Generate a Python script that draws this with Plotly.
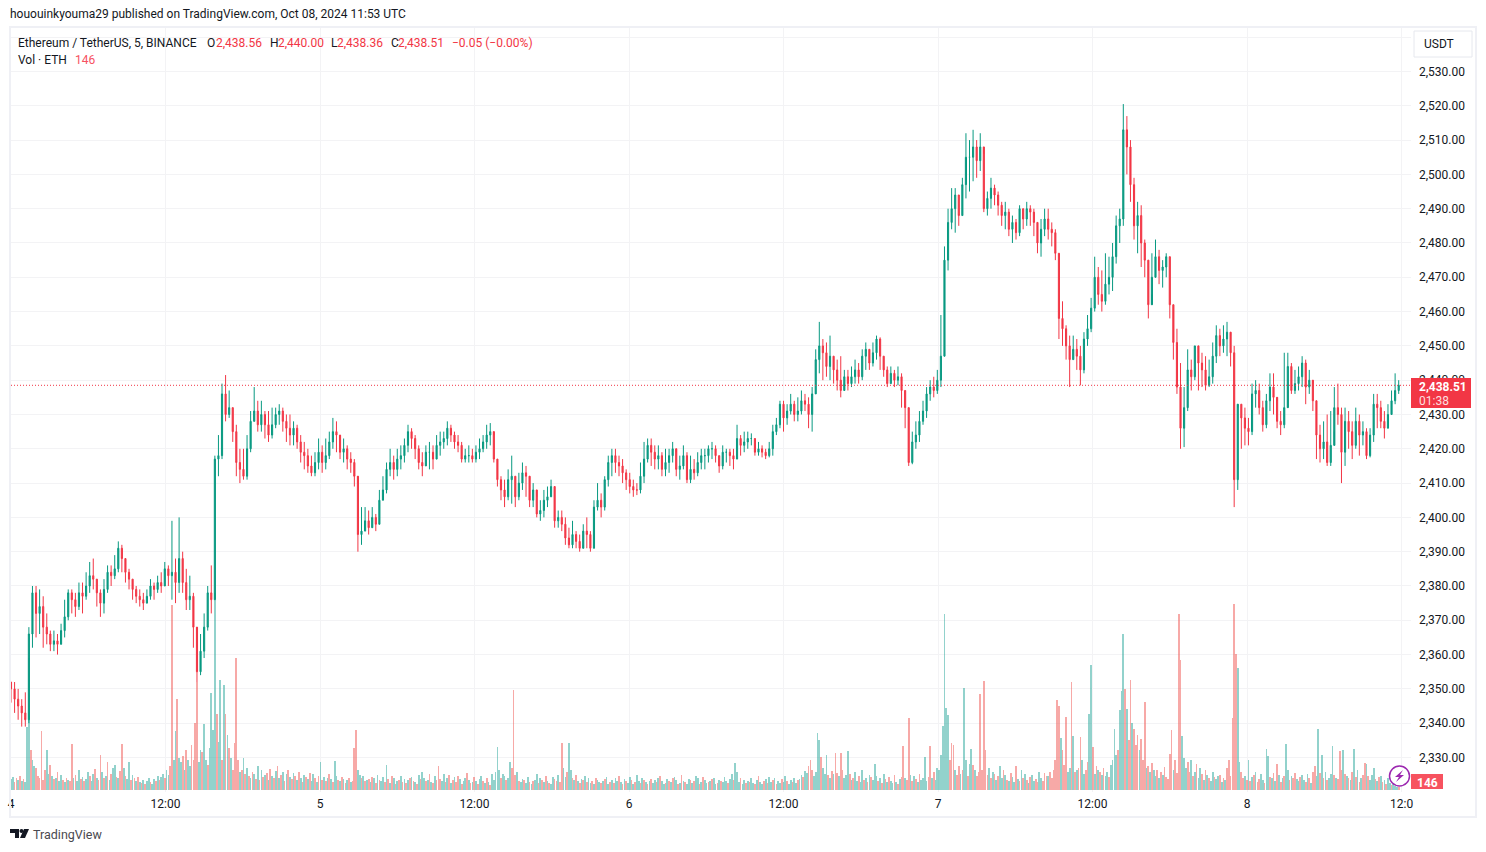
import pandas as pd
import plotly.graph_objects as go

W, H = 1486, 852
UP = "#089981"
DOWN = "#f23645"
VOL_UP = "rgba(38,166,154,0.5)"
VOL_DOWN = "rgba(239,83,80,0.5)"
FONT = "Roboto"
TEXT = "#131722"

# one candle per 1000 s
closes = [
    2350, 2347, 2345, 2343, 2341, 2366, 2378, 2372, 2374, 2368, 2366, 2363,
    2364, 2363, 2367, 2371, 2378, 2376, 2374, 2378, 2377, 2380, 2383, 2382,
    2378, 2375, 2379, 2384, 2383, 2385, 2391, 2388, 2384, 2382, 2379, 2377,
    2376, 2375, 2377, 2380, 2379, 2381, 2380, 2385, 2383, 2384, 2381, 2388,
    2381, 2376, 2377, 2368, 2355, 2361, 2368, 2378, 2376, 2417, 2418, 2436,
    2430, 2432, 2425, 2416, 2414, 2412, 2420, 2428, 2431, 2427, 2430, 2427,
    2424, 2427, 2430, 2431, 2428, 2426, 2424, 2426, 2422, 2419, 2418, 2415,
    2413, 2416, 2419, 2416, 2418, 2422, 2425, 2424, 2419, 2420, 2417, 2416,
    2412, 2395, 2396, 2399, 2397, 2400, 2398, 2405, 2408, 2414, 2416, 2414,
    2417, 2418, 2421, 2425, 2423, 2420, 2416, 2415, 2419, 2419, 2417, 2421,
    2422, 2423, 2426, 2424, 2422, 2421, 2417, 2418, 2418, 2417, 2419, 2420,
    2422, 2424, 2425, 2417, 2411, 2408, 2406, 2411, 2412, 2406, 2410, 2413,
    2412, 2405, 2408, 2401, 2402, 2405, 2406, 2409, 2399, 2400, 2398, 2394,
    2392, 2395, 2393, 2391, 2396, 2395, 2391, 2403, 2405, 2403, 2411, 2416,
    2418, 2416, 2415, 2413, 2411, 2409, 2408, 2408, 2412, 2417, 2421, 2419,
    2417, 2418, 2414, 2416, 2418, 2420, 2414, 2415, 2418, 2411, 2414, 2413,
    2416, 2418, 2418, 2420, 2420, 2418, 2415, 2419, 2419, 2418, 2417, 2423,
    2421, 2422, 2423, 2423, 2419, 2420, 2419, 2418, 2420, 2425, 2427, 2433,
    2429, 2431, 2433, 2430, 2431, 2434, 2433, 2430, 2436, 2446, 2450, 2448,
    2444, 2447, 2443, 2440, 2437, 2441, 2439, 2441, 2443, 2441, 2447, 2449,
    2445, 2448, 2452, 2447, 2443, 2439, 2442, 2440, 2441, 2437, 2432, 2416,
    2422, 2424, 2428, 2431, 2436, 2438, 2437, 2440, 2447, 2475, 2486, 2490,
    2494, 2488, 2497, 2505, 2505, 2508, 2504, 2508, 2490, 2493, 2496, 2494,
    2491, 2488, 2489, 2484, 2486, 2483, 2490, 2487, 2490, 2489, 2486, 2480,
    2484, 2487, 2484, 2483, 2477, 2458, 2455, 2450, 2446, 2449, 2447, 2443,
    2452, 2455, 2461, 2470, 2465, 2463, 2468, 2470, 2476, 2485, 2487, 2513,
    2508, 2497, 2485, 2488, 2480, 2475, 2462, 2470, 2476, 2472, 2473, 2476,
    2462, 2451, 2438, 2426, 2432, 2443, 2441, 2450, 2445, 2443, 2438.5, 2441,
    2447, 2453, 2450, 2452, 2454, 2448, 2411, 2433, 2429, 2426, 2425, 2436,
    2437, 2432, 2427, 2434, 2438, 2435, 2428, 2427, 2432, 2444, 2437, 2439,
    2441, 2445, 2438, 2440, 2434, 2424, 2420, 2422, 2416, 2421, 2432, 2430,
    2419, 2428, 2425, 2421, 2428, 2424, 2425, 2418, 2424, 2433, 2432, 2428,
    2426, 2430, 2434, 2437, 2438.51,
]
highs = [
    2352, 2352, 2350, 2347, 2349, 2368, 2380, 2380, 2379, 2377, 2372, 2367,
    2367, 2366, 2369, 2376, 2379, 2379, 2378, 2381, 2381, 2384, 2387, 2388,
    2382, 2379, 2382, 2386, 2386, 2389, 2393, 2392, 2388, 2385, 2382, 2380,
    2379, 2378, 2379, 2382, 2381, 2383, 2384, 2387, 2386, 2399, 2388, 2400,
    2390, 2385, 2383, 2378, 2362, 2366, 2372, 2380, 2386, 2418, 2424, 2439,
    2441.5, 2437, 2432, 2427, 2420, 2420, 2424, 2431, 2438, 2434, 2434, 2431,
    2431, 2432, 2432, 2433, 2432, 2430, 2430, 2428, 2427, 2424, 2422, 2420,
    2418, 2419, 2423, 2421, 2423, 2425, 2429, 2428, 2424, 2423, 2421, 2419,
    2417, 2410, 2403, 2403, 2402, 2403, 2401, 2408, 2412, 2416, 2420, 2418,
    2420, 2421, 2423, 2427, 2426, 2424, 2421, 2419, 2421, 2422, 2421, 2424,
    2425, 2425, 2428, 2427, 2425, 2424, 2422, 2420, 2421, 2420, 2421, 2423,
    2424, 2427, 2427.5, 2424, 2417, 2412, 2411, 2414, 2418, 2412, 2413, 2416,
    2415, 2411, 2410, 2406, 2405, 2408, 2409, 2411, 2409, 2402, 2402, 2400,
    2397, 2399, 2396, 2395, 2398, 2400, 2396, 2405, 2410, 2407, 2412, 2418,
    2420, 2420, 2418, 2417, 2414, 2413, 2411, 2410, 2416, 2422, 2423, 2423,
    2421, 2421, 2419, 2420, 2420, 2422, 2419, 2418, 2421, 2419, 2418, 2417,
    2419, 2420, 2420, 2421, 2422, 2421, 2418, 2421, 2420, 2420, 2420, 2427,
    2424, 2425, 2425, 2424.5, 2423, 2422, 2421, 2420, 2422, 2427, 2429, 2434,
    2434, 2433, 2436, 2434, 2435, 2437, 2436, 2435, 2438, 2449, 2457, 2452,
    2451, 2453, 2447, 2446, 2447, 2443, 2443, 2444, 2446, 2445, 2449, 2451,
    2449, 2451, 2453, 2452.5, 2447, 2444, 2444, 2443, 2444, 2442, 2437, 2432,
    2425, 2428, 2431, 2434, 2438, 2440, 2441, 2443, 2459, 2479, 2490, 2496,
    2496, 2494, 2499, 2512, 2510, 2513, 2510, 2512, 2506, 2495, 2499, 2497,
    2495, 2492, 2492, 2490, 2488, 2487, 2491, 2490, 2492, 2491, 2490, 2486,
    2487, 2490, 2490, 2486, 2484, 2477, 2463, 2456, 2453, 2453, 2452, 2450,
    2454, 2459, 2464, 2476, 2473, 2472, 2477, 2476, 2480, 2488, 2490, 2520.5,
    2517, 2510, 2499, 2492, 2491, 2481, 2475, 2477, 2481, 2478, 2475, 2477,
    2476, 2462, 2455, 2445, 2438, 2449, 2446, 2450, 2448, 2448, 2447, 2446,
    2451, 2456, 2455, 2456, 2457, 2453, 2450, 2432, 2433, 2432, 2429, 2439,
    2440, 2439, 2434, 2436, 2442, 2442, 2434, 2431, 2448, 2448, 2445, 2443,
    2444, 2447, 2446, 2443, 2439, 2434, 2427, 2428, 2430, 2431, 2438, 2439,
    2432, 2432, 2431, 2428, 2432, 2430, 2428, 2426, 2426, 2436, 2436, 2434,
    2431, 2433, 2437, 2442, 2440,
]
lows = [
    2346, 2343, 2341, 2339, 2339, 2340, 2362, 2365, 2366, 2362, 2363, 2361,
    2361, 2360, 2363, 2365, 2370, 2372, 2371, 2373, 2372, 2376, 2378, 2379,
    2374, 2371, 2372, 2378, 2380, 2382, 2384, 2384, 2381, 2379, 2376, 2375,
    2374, 2373, 2375, 2376, 2376, 2378, 2378, 2380, 2380, 2376, 2375, 2378,
    2378, 2373, 2373, 2362, 2352, 2354, 2359, 2367, 2372, 2378, 2412, 2417,
    2428, 2429, 2422, 2412, 2410, 2411, 2411, 2419, 2428, 2425, 2425, 2423,
    2422, 2423, 2426, 2427, 2425, 2422, 2421, 2421, 2420, 2416, 2414, 2413,
    2412, 2412, 2414, 2413, 2414, 2417, 2420, 2419, 2417, 2416, 2414, 2413,
    2409, 2390, 2392, 2396, 2395, 2397, 2396, 2398, 2405, 2407, 2412, 2411,
    2412, 2414, 2416, 2419, 2420, 2417, 2414, 2412, 2415, 2414, 2414, 2417,
    2418, 2420, 2421, 2422, 2420, 2419, 2416, 2416, 2416, 2416, 2416, 2417,
    2419, 2420, 2421, 2416, 2409, 2405, 2403, 2405, 2404, 2403, 2405, 2408,
    2406, 2403, 2403, 2400, 2399, 2400, 2403, 2406, 2397, 2397, 2396, 2392,
    2391, 2391, 2391, 2390, 2392, 2391, 2390, 2391, 2402, 2400, 2402, 2409,
    2412, 2413, 2412, 2410, 2408, 2407, 2406, 2406.5, 2407, 2410, 2416, 2415,
    2414, 2414, 2412, 2412, 2413, 2416, 2412, 2411, 2414, 2410, 2410, 2411,
    2412, 2414, 2414, 2416, 2417, 2416, 2413, 2414, 2416, 2415, 2414, 2417,
    2418, 2419, 2420, 2421, 2418, 2418, 2417.5, 2417, 2417.5, 2418, 2424, 2426,
    2425, 2427, 2430, 2428, 2428, 2430, 2431, 2426, 2425, 2436, 2442, 2440,
    2441, 2440, 2439, 2437, 2435, 2439, 2437, 2438, 2439, 2439, 2440, 2443,
    2443, 2444, 2446, 2443, 2441, 2438, 2439, 2438, 2438.5, 2432, 2426, 2415,
    2415.5, 2420, 2422, 2427, 2429, 2434, 2435, 2436, 2438, 2448, 2472, 2484,
    2483, 2485, 2488, 2493, 2495, 2498, 2499, 2501, 2489, 2488, 2490, 2491,
    2488, 2485, 2484, 2482, 2480, 2481, 2482, 2484, 2485, 2485, 2482, 2477,
    2476, 2482, 2481, 2479, 2475, 2452, 2450, 2446, 2438, 2446, 2443, 2438.5,
    2442, 2450, 2454, 2460, 2462, 2460, 2462, 2465, 2466, 2474, 2480, 2485,
    2500, 2492, 2481, 2477, 2473, 2470, 2458, 2465, 2472, 2468, 2467, 2470,
    2458, 2446, 2436, 2420, 2420.5, 2431, 2437, 2440, 2437, 2438, 2437, 2438,
    2439, 2445, 2447, 2448, 2447, 2444, 2403, 2408, 2420, 2421, 2421, 2424,
    2432, 2430, 2425, 2426, 2431, 2430, 2426, 2424, 2426, 2438, 2436, 2436,
    2437, 2438, 2433, 2436, 2431, 2417, 2416, 2417, 2415, 2415, 2425, 2427,
    2410, 2415, 2420, 2417, 2420, 2418, 2421, 2417, 2417.5, 2422, 2426, 2426,
    2423, 2426, 2430, 2433, 2436,
]
first_open = 2352
opens = [first_open] + closes[:-1]

# 1 unit = 50 ETH, one bar per 500 s, negative means a falling bar
volumes = [
    11, 13, -8, -12, 10, -14, 9, -11, 8, 63, 132, -40, 30, 24, -22, -14, -12, -59, -10, -20,
    40, 16, -25, 14, -11, 12, -18, 9, 15, -10, 8, -12, 10, -9, -46, 12, -15, 9, 20, -11,
    13, -9, 11, 18, -14, 9, 16, -21, 12, -10, -35, 18, -12, 14, -28, 10, -16, 22, 25, -13,
    12, -19, -46, 22, -14, 11, 28, -10, 15, -12, 9, -13, 8, -7, 10, -6, 9, 12, -8, 6,
    11, -9, 14, -10, 13, 16, -12, 20, 15, -24, -185, 30, 59, -91, 32, 28, -34, 20, -40, 30,
    24, -45, -30, -67, -108, 28, 40, -38, 66, 30, -25, 42, 97, 60, 190, -76, 48, 110, -30, 105,
    -76, 55, -42, 32, -20, -47, -132, -30, 18, -20, 32, -16, 22, -14, 12, -18, 16, -11, 24, -10,
    20, -13, 15, -17, 10, -21, 14, -12, 19, -24, 12, -15, 18, -9, 16, -20, 13, -11, 17, -14,
    10, -18, 12, -8, 15, -13, 11, -17, 9, 16, -12, 8, -14, 28, -10, 13, -9, 12, -16, 11,
    -8, 29, 14, -10, 9, -13, 11, -7, 10, -12, 8, -9, -42, -60, 20, 15, -12, 14, -9, 10,
    -11, 8, -13, 12, -7, 15, -10, 9, 13, -8, 25, -11, 7, -14, 12, -6, 9, -10, 14, -8,
    11, -7, 10, -12, 13, -9, 8, -6, 15, -11, 18, 12, -9, 10, -16, 8, -7, 14, -10, -24,
    -11, 9, 16, -8, 12, -15, 7, -10, 13, -8, -14, 11, -6, 9, 12, -17, 10, -7, 8, -13,
    9, -6, 11, 14, -9, 7, -12, 8, -5, 16, 10, 18, 43, 20, -12, 16, 14, -10, 12, 28,
    -22, -100, -15, 18, -9, 8, 11, -10, 7, 13, -8, 6, -9, 10, 16, -7, 12, -10, 8, -14,
    9, -7, 6, 13, -11, -9, 15, -8, -47, 22, 13, -18, 47, 20, -12, 10, -15, 9, -7, 11,
    -10, 14, -8, 12, 7, -9, 6, -12, 10, 8, -7, 9, -11, 13, 6, -8, 10, -7, 12, 9,
    -14, 8, -6, 11, -9, 7, 13, -10, 6, -8, 15, 9, -7, 12, -10, 8, -6, 9, -11, 7,
    10, -8, 12, -14, 9, 6, -7, 11, -9, 8, -12, 13, 10, -6, 7, -15, 9, -8, 6, 11,
    -10, 7, -9, 14, 12, -6, 8, -13, 10, 7, -8, 9, -11, 12, 6, -7, 10, -9, 8, 13,
    9, -7, 11, 16, -10, 27, 18, 8, -12, 6, 10, -7, 9, -8, 12, 7, -6, 10, -14, 8,
    6, -9, 11, -7, 13, 8, -10, 12, -6, 9, 7, -11, 8, 14, -9, 6, 10, -8, 12, 7,
    -10, 11, 15, -13, 19, 17, -24, -30, -20, 14, 18, 57, 50, -33, 22, 16, 35, -15, 12, -19,
    16, -37, -17, 14, -37, -20, 12, 15, 39, -16, 10, -12, 18, 9, -14, 8, 20, -10, 12, -8,
    15, -13, 10, 26, 14, -9, 12, -7, 16, -11, 8, -13, 9, 7, -15, 8, -6, 11, -13, -44,
    12, -10, -72, 15, -9, 14, -11, 8, -16, 10, 12, 33, 9, -13, -44, 12, -18, 10, 22, 20,
    35, 64, 176, 82, 75, -30, -47, -45, 20, -15, -24, 16, -20, 102, 30, -14, 26, 41, -25, 20,
    -14, -18, -96, -20, -109, -40, -15, 22, -12, 18, -16, 10, -14, 24, 12, -20, 15, -10, 9, -17,
    13, 8, -24, 11, -9, 20, -12, 16, -10, 7, -13, 15, 9, -11, -8, 18, 12, -9, -17, -14,
    14, -18, -12, -20, -30, -90, -84, 52, -40, -25, -73, 18, 22, -108, 54, -18, 20, -22, -53, 30,
    16, -20, -28, 76, 125, -43, 16, -24, 20, -18, 15, -22, 14, 18, -13, 25, 30, 61, 35, -40,
    80, 99, 156, -101, 81, -50, -110, 67, -61, -45, -55, 40, -51, -30, -88, 22, -24, 18, -27, 20,
    14, -20, 12, -18, 15, -23, -13, -11, -36, -60, 20, -30, -17, -176, -130, 54, 32, 22, -28, -18,
    30, -14, 18, -26, 12, 22, -16, 10, -20, 15, -12, 9, 18, -13, 11, 14, -15, 8, -12, 10,
    -22, -30, -14, -72, -186, -136, 122, 28, -18, -12, 14, -10, 30, -9, 13, -15, 18, -8, -11, 16,
    10, -7, 41, 34, -13, 12, -17, 9, -26, 15, -8, 12, -14, 46, 20, -10, 14, -12, -17, 11,
    9, -13, 15, 10, -8, 16, -12, 7, -18, -24, 14, 61, -17, 35, -12, 18, -10, 12, 16, 44,
    -15, 12, -11, -39, -20, 40, -16, 14, -12, 10, -18, 41, -13, 20, -8, 12, -15, -27, 26, -14,
    10, 15, 22, -11, 9, -13, 14, -8, 10, -6, 12, 7, -5, 6, 4, 3, -3,
]

price_ticks = list(range(2320, 2550, 10))
price_tick_text = ["" if p in (2320, 2540) else f"{p:,.2f}" for p in price_ticks]
time_ticks = pd.date_range("2024-10-04", periods=10, freq="12h")
time_tick_text = ["4", "12:00", "5", "12:00", "6", "12:00", "7", "12:00", "8", "12:0"]


def px(x):
    return x / W


def py(y):
    return 1 - y / H


def text(x, y, s, color=TEXT, size=12, anchor="left", weight=None):
    if weight:
        s = f"<b>{s}</b>"
    fig.add_annotation(
        x=px(x - 1), y=py(y + 0.5), xref="paper", yref="paper", text=s, showarrow=False, borderpad=0,
        xanchor=anchor, yanchor="middle", font=dict(family=FONT, size=size, color=color),
    )


def path_shape(points, fill, line=None):
    d = "M" + " L".join(f"{px(x):.5f},{py(y):.5f}" for x, y in points) + " Z"
    fig.add_shape(
        type="path", path=d, xref="paper", yref="paper", fillcolor=fill,
        line=dict(width=0 if line is None else 1, color=line or fill), layer="above",
    )


def rect(x0, y0, x1, y1, fill=None, line=None, width=0):
    fig.add_shape(
        type="rect", xref="paper", yref="paper", x0=px(x0), x1=px(x1), y0=py(y0), y1=py(y1),
        fillcolor=fill or "rgba(0,0,0,0)", line=dict(width=width, color=line or "rgba(0,0,0,0)"),
        layer="above",
    )


candle_times = pd.date_range("2024-10-04", periods=len(closes), freq="1000s")
volume_times = pd.date_range("2024-10-04", periods=len(volumes), freq="500s")

fig = go.Figure()
fig.add_trace(go.Bar(
    x=volume_times, y=[abs(v) for v in volumes], yaxis="y", width=480000,
    marker=dict(color=[VOL_UP if v > 0 else VOL_DOWN for v in volumes], line_width=0),
    showlegend=False,
))
fig.add_trace(go.Candlestick(
    x=candle_times, open=opens, high=highs, low=lows, close=closes, yaxis="y2",
    whiskerwidth=0, showlegend=False,
    increasing=dict(line=dict(color=UP, width=1), fillcolor=UP),
    decreasing=dict(line=dict(color=DOWN, width=1), fillcolor=DOWN),
))

fig.update_layout(
    width=W, height=H, margin=dict(l=0, r=0, t=0, b=0, autoexpand=False), autosize=False,
    paper_bgcolor="white", plot_bgcolor="white", bargap=0, boxgap=0.55, showlegend=False,
    font=dict(family=FONT, size=12, color=TEXT),
    xaxis=dict(
        domain=[px(11), px(1411)], range=["2024-10-04 00:00", "2024-10-08 12:44"],
        tickmode="array", tickvals=time_ticks, ticktext=time_tick_text, ticks="",
        showgrid=True, gridcolor="#f3f3f5", gridwidth=1, zeroline=False, showline=False,
        rangeslider=dict(visible=False), ticklabelstandoff=3,
        tickfont=dict(family=FONT, size=12, color=TEXT),
    ),
    yaxis=dict(
        domain=[py(792), py(28)], range=[-2, 762], visible=False, fixedrange=True,
    ),
    yaxis2=dict(
        domain=[py(792), py(28)], range=[2319.94, 2542.68], overlaying="y", side="right",
        anchor="x", tickmode="array", tickvals=price_ticks, ticktext=price_tick_text, ticks="",
        showgrid=True, gridcolor="#f3f3f5", gridwidth=1, zeroline=False, showline=False,
        ticklabelstandoff=7, tickfont=dict(family=FONT, size=12, color=TEXT),
    ),
)

# last price line
fig.add_shape(
    type="line", xref="paper", yref="y2", x0=px(11), x1=px(1411), y0=closes[-1], y1=closes[-1],
    line=dict(color=DOWN, width=1, dash="1px,2px"),
)

# outer frame
rect(10, 27, 1476, 817, line="#eff0f5", width=2)

# price and volume tags
rect(1411, 378, 1471, 408, fill="#f23645")
text(1419, 386, "2,438.51", color="white", weight=True)
text(1419, 400, "01:38", color="rgba(255,255,255,0.85)")
rect(1411, 774, 1443, 789, fill="#f7525f")
text(1428, 782, "146", color="white", anchor="center", weight=True)

# currency button
rect(1414, 31, 1472, 57, fill="white", line="#e6e8ee", width=1)
text(1424, 44, "USDT")

# lightning badge
fig.add_shape(
    type="circle", xref="paper", yref="paper", x0=px(1389.5), x1=px(1409.5), y0=py(786), y1=py(766),
    fillcolor="white", line=dict(color="#9c27b0", width=1.5), layer="above",
)
path_shape([(1403, 770), (1395, 777), (1399, 777), (1396, 782), (1404, 775), (1400, 775)], "#9c27b0")

# header and legend
text(10, 14, "hououinkyouma29 published on TradingView.com, Oct 08, 2024 11:53 UTC")
text(18, 42, "Ethereum / TetherUS, 5, BINANCE")
for label, x_label, value, x_value in [
    ("O", 207, "2,438.56", 216),
    ("H", 270, "2,440.00", 278),
    ("L", 331, "2,438.36", 337),
    ("C", 391, "2,438.51", 398),
]:
    text(x_label, 42, label)
    text(x_value, 42, value, color=DOWN)
text(452, 42, "−0.05 (−0.00%)", color=DOWN)
text(18, 59, "Vol · ETH")
text(75, 59, "146", color="#f7525f")

# footer logo
path_shape([(10, 829), (19, 829), (19, 838), (15, 838), (15, 833), (10, 833)], "#131722")
path_shape([(24, 829), (29, 829), (25, 838), (20, 838)], "#131722")
fig.add_shape(
    type="circle", xref="paper", yref="paper", x0=px(19.5), x1=px(23.5), y0=py(833), y1=py(829),
    fillcolor="#131722", line_width=0, layer="above",
)
text(33, 834, "TradingView", color="#4a4a4f", size=12.5)

fig.write_html("out.html", config={"displayModeBar": False}, post_script="document.body.style.margin='0'")
